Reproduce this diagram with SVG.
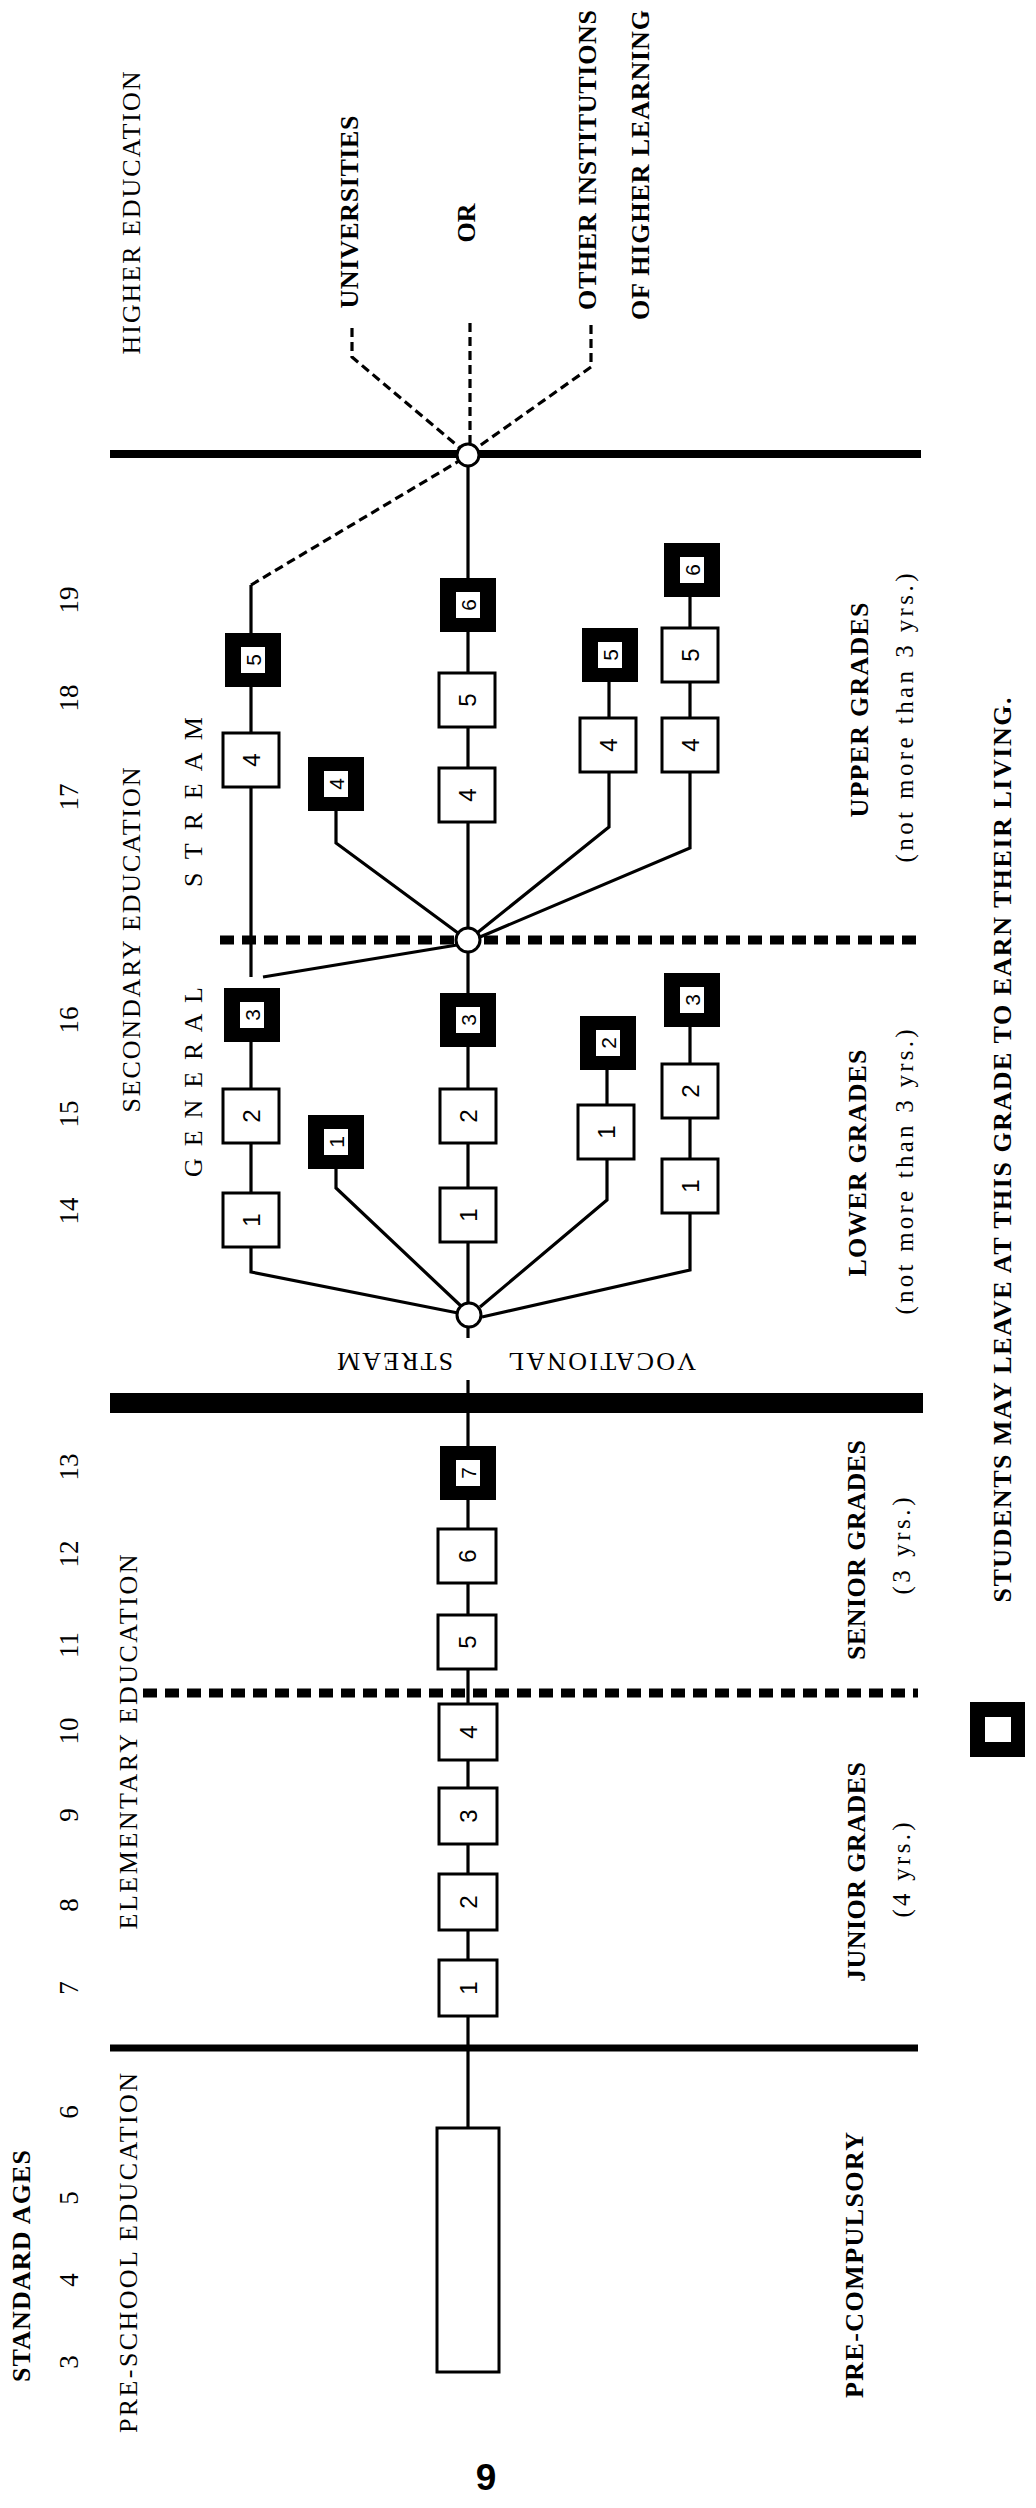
<svg xmlns="http://www.w3.org/2000/svg" width="1036" height="2508" viewBox="0 0 1036 2508">
<style>
.t{font-family:"Liberation Serif","DejaVu Serif",serif;font-size:26px;fill:#000;text-anchor:middle}
.b{font-weight:bold}
.s{font-size:25px}
.age{font-size:27px}
.box{fill:#fff;stroke:#000;stroke-width:3}
.blk{fill:#000}
.in{fill:#fff}
.num{font-family:"Liberation Sans",Arial,sans-serif;font-size:24px;text-anchor:middle;dominant-baseline:central;fill:#000}
.nb{font-size:21px}
.ln{stroke:#000;stroke-width:3.2;fill:none;stroke-linejoin:miter}
.dl{stroke:#000;stroke-width:3.2;fill:none;stroke-dasharray:9 5}
.bar{stroke:#000;fill:none}
.dbar{stroke:#000;fill:none;stroke-width:9;stroke-dasharray:14 8}
.circ{fill:#fff;stroke:#000;stroke-width:3}
</style>
<rect width="1036" height="2508" fill="#fff"/>

<g id="dividers">
<path class="bar" d="M110,454 H921" stroke-width="8"/>
<path class="dbar" d="M220,940 H921"/>
<path class="bar" d="M110,1403 H923" stroke-width="20"/>
<path class="dbar" d="M143,1693 H918"/>
<path class="bar" d="M110,2048 H918" stroke-width="7"/>
</g>

<g id="connectors">
<path class="ln" d="M468,2128 V1380"/>
<path class="ln" d="M468,1338 V455"/>
<path class="ln" d="M458,1313 L251,1272 V1015"/>
<path class="ln" d="M251,977 V585"/>
<path class="ln" d="M263,977 L457,945"/>
<path class="ln" d="M461,1306 L336,1188 V1142"/>
<path class="ln" d="M458,933 L336,843 V784"/>
<path class="ln" d="M480,1307 L607,1200 V1043"/>
<path class="ln" d="M482,1317 L690,1270 V1000"/>
<path class="ln" d="M477,933 L609,827 V655"/>
<path class="ln" d="M480,937 L690,848 V570"/>
<path class="dl" d="M251,585 L459,461"/>
<path class="dl" d="M352,328 V357 L460,448"/>
<path class="dl" d="M470,323 V443"/>
<path class="dl" d="M591,325 V367 L478,447"/>
</g>

<g id="junctions">
<circle id="j-top" class="circ" cx="468" cy="455" r="11"/>
<circle id="j-upper" class="circ" cx="468" cy="940" r="12"/>
<circle id="j-lower" class="circ" cx="469" cy="1315" r="12"/>
</g>

<g id="preschool"><rect class="box" x="437" y="2128" width="62" height="244"/></g>

<g id="elem-1" transform="translate(468,1988)"><rect class="box" x="-29" y="-28" width="58" height="56"/><text class="num" transform="rotate(-90)">1</text></g>
<g id="elem-2" transform="translate(468,1902)"><rect class="box" x="-29" y="-28" width="58" height="56"/><text class="num" transform="rotate(-90)">2</text></g>
<g id="elem-3" transform="translate(468,1816)"><rect class="box" x="-29" y="-28" width="58" height="56"/><text class="num" transform="rotate(-90)">3</text></g>
<g id="elem-4" transform="translate(468,1732)"><rect class="box" x="-29" y="-28" width="58" height="56"/><text class="num" transform="rotate(-90)">4</text></g>
<g id="elem-5" transform="translate(467,1642)"><rect class="box" x="-29" y="-27" width="58" height="54"/><text class="num" transform="rotate(-90)">5</text></g>
<g id="elem-6" transform="translate(467,1556)"><rect class="box" x="-29" y="-27" width="58" height="54"/><text class="num" transform="rotate(-90)">6</text></g>
<g id="elem-7" transform="translate(468,1473)"><rect class="blk" x="-28" y="-27" width="56" height="54"/><rect class="in" x="-12" y="-13" width="24" height="26"/><text class="num nb" transform="rotate(-90)">7</text></g>

<g id="gen-1" transform="translate(251,1220)"><rect class="box" x="-28" y="-27" width="56" height="54"/><text class="num" transform="rotate(-90)">1</text></g>
<g id="gen-2" transform="translate(251,1116)"><rect class="box" x="-28" y="-27" width="56" height="54"/><text class="num" transform="rotate(-90)">2</text></g>
<g id="gen-3" transform="translate(252,1015)"><rect class="blk" x="-28" y="-27" width="56" height="54"/><rect class="in" x="-12" y="-13" width="24" height="26"/><text class="num nb" transform="rotate(-90)">3</text></g>
<g id="gen-4" transform="translate(251,760)"><rect class="box" x="-28" y="-27" width="56" height="54"/><text class="num" transform="rotate(-90)">4</text></g>
<g id="gen-5" transform="translate(253,660)"><rect class="blk" x="-28" y="-27" width="56" height="54"/><rect class="in" x="-12" y="-13" width="24" height="26"/><text class="num nb" transform="rotate(-90)">5</text></g>

<g id="voc-a-1" transform="translate(336,1142)"><rect class="blk" x="-28" y="-27" width="56" height="54"/><rect class="in" x="-12" y="-13" width="24" height="26"/><text class="num nb" transform="rotate(-90)">1</text></g>
<g id="voc-a-4" transform="translate(336,784)"><rect class="blk" x="-28" y="-27" width="56" height="54"/><rect class="in" x="-12" y="-13" width="24" height="26"/><text class="num nb" transform="rotate(-90)">4</text></g>

<g id="mid-1" transform="translate(468,1215)"><rect class="box" x="-28" y="-27" width="56" height="54"/><text class="num" transform="rotate(-90)">1</text></g>
<g id="mid-2" transform="translate(468,1116)"><rect class="box" x="-28" y="-27" width="56" height="54"/><text class="num" transform="rotate(-90)">2</text></g>
<g id="mid-3" transform="translate(468,1020)"><rect class="blk" x="-28" y="-27" width="56" height="54"/><rect class="in" x="-12" y="-13" width="24" height="26"/><text class="num nb" transform="rotate(-90)">3</text></g>
<g id="mid-4" transform="translate(467,795)"><rect class="box" x="-28" y="-27" width="56" height="54"/><text class="num" transform="rotate(-90)">4</text></g>
<g id="mid-5" transform="translate(467,700)"><rect class="box" x="-28" y="-27" width="56" height="54"/><text class="num" transform="rotate(-90)">5</text></g>
<g id="mid-6" transform="translate(468,605)"><rect class="blk" x="-28" y="-27" width="56" height="54"/><rect class="in" x="-12" y="-13" width="24" height="26"/><text class="num nb" transform="rotate(-90)">6</text></g>

<g id="voc-b-1" transform="translate(606,1132)"><rect class="box" x="-28" y="-27" width="56" height="54"/><text class="num" transform="rotate(-90)">1</text></g>
<g id="voc-b-2" transform="translate(608,1043)"><rect class="blk" x="-28" y="-27" width="56" height="54"/><rect class="in" x="-12" y="-13" width="24" height="26"/><text class="num nb" transform="rotate(-90)">2</text></g>
<g id="voc-b-4" transform="translate(608,745)"><rect class="box" x="-28" y="-27" width="56" height="54"/><text class="num" transform="rotate(-90)">4</text></g>
<g id="voc-b-5" transform="translate(610,655)"><rect class="blk" x="-28" y="-27" width="56" height="54"/><rect class="in" x="-12" y="-13" width="24" height="26"/><text class="num nb" transform="rotate(-90)">5</text></g>

<g id="voc-c-1" transform="translate(690,1186)"><rect class="box" x="-28" y="-27" width="56" height="54"/><text class="num" transform="rotate(-90)">1</text></g>
<g id="voc-c-2" transform="translate(690,1091)"><rect class="box" x="-28" y="-27" width="56" height="54"/><text class="num" transform="rotate(-90)">2</text></g>
<g id="voc-c-3" transform="translate(692,1000)"><rect class="blk" x="-28" y="-27" width="56" height="54"/><rect class="in" x="-12" y="-13" width="24" height="26"/><text class="num nb" transform="rotate(-90)">3</text></g>
<g id="voc-c-4" transform="translate(690,745)"><rect class="box" x="-28" y="-27" width="56" height="54"/><text class="num" transform="rotate(-90)">4</text></g>
<g id="voc-c-5" transform="translate(690,655)"><rect class="box" x="-28" y="-27" width="56" height="54"/><text class="num" transform="rotate(-90)">5</text></g>
<g id="voc-c-6" transform="translate(692,570)"><rect class="blk" x="-28" y="-27" width="56" height="54"/><rect class="in" x="-12" y="-13" width="24" height="26"/><text class="num nb" transform="rotate(-90)">6</text></g>

<g id="legend"><rect class="blk" x="970" y="1702" width="55" height="55"/><rect class="in" x="985" y="1717" width="26" height="25"/></g>

<g id="labels">
<text class="t" transform="translate(140,213) rotate(-90)" textLength="283">HIGHER EDUCATION</text>
<text class="t b" transform="translate(358,212) rotate(-90)" textLength="193">UNIVERSITIES</text>
<text class="t b" transform="translate(475,223) rotate(-90)">OR</text>
<text class="t b" transform="translate(596,160) rotate(-90)" textLength="300">OTHER INSTITUTIONS</text>
<text class="t b" transform="translate(649,165) rotate(-90)" textLength="310">OF HIGHER LEARNING</text>
<text class="t" transform="translate(140,940) rotate(-90)" textLength="345">SECONDARY EDUCATION</text>
<text class="t" transform="translate(137,1742) rotate(-90)" textLength="375">ELEMENTARY EDUCATION</text>
<text class="t" transform="translate(137,2253) rotate(-90)" textLength="360">PRE-SCHOOL EDUCATION</text>
<text class="t b" transform="translate(30,2266) rotate(-90)" textLength="232">STANDARD AGES</text>
<text class="t" transform="translate(202,1082) rotate(-90)" textLength="190">G E N E R A L</text>
<text class="t" transform="translate(202,802) rotate(-90)" textLength="170">S T R E A M</text>
<text class="t" transform="translate(395,1353) rotate(180)" textLength="116">STREAM</text>
<text class="t" transform="translate(602,1353) rotate(180)" textLength="188">VOCATIONAL</text>
<text class="t b" transform="translate(868,710) rotate(-90)" textLength="215">UPPER GRADES</text>
<text class="t s" transform="translate(913,718) rotate(-90)" textLength="289">(not more than 3 yrs.)</text>
<text class="t b" transform="translate(866,1163) rotate(-90)" textLength="227">LOWER GRADES</text>
<text class="t s" transform="translate(913,1172) rotate(-90)" textLength="285">(not more than 3 yrs.)</text>
<text class="t b" transform="translate(865,1550) rotate(-90)" textLength="220">SENIOR GRADES</text>
<text class="t s" transform="translate(910,1546) rotate(-90)" textLength="97">(3 yrs.)</text>
<text class="t b" transform="translate(865,1872) rotate(-90)" textLength="220">JUNIOR GRADES</text>
<text class="t s" transform="translate(910,1870) rotate(-90)" textLength="95">(4 yrs.)</text>
<text class="t b" transform="translate(863,2265) rotate(-90)" textLength="266">PRE-COMPULSORY</text>
<text class="t b" transform="translate(1011,1150) rotate(-90)" textLength="905">STUDENTS MAY LEAVE AT THIS GRADE TO EARN THEIR LIVING.</text>
<text x="486" y="2490" font-family="Liberation Sans, Arial, sans-serif" font-weight="bold" font-size="37" text-anchor="middle">9</text>
</g>

<g id="ages">
<text class="t age" transform="translate(78,600) rotate(-90)">19</text>
<text class="t age" transform="translate(78,698) rotate(-90)">18</text>
<text class="t age" transform="translate(78,797) rotate(-90)">17</text>
<text class="t age" transform="translate(78,1020) rotate(-90)">16</text>
<text class="t age" transform="translate(78,1114) rotate(-90)">15</text>
<text class="t age" transform="translate(78,1211) rotate(-90)">14</text>
<text class="t age" transform="translate(78,1467) rotate(-90)">13</text>
<text class="t age" transform="translate(78,1554) rotate(-90)">12</text>
<text class="t age" transform="translate(78,1645) rotate(-90)">11</text>
<text class="t age" transform="translate(78,1731) rotate(-90)">10</text>
<text class="t age" transform="translate(78,1815) rotate(-90)">9</text>
<text class="t age" transform="translate(78,1905) rotate(-90)">8</text>
<text class="t age" transform="translate(78,1988) rotate(-90)">7</text>
<text class="t age" transform="translate(78,2112) rotate(-90)">6</text>
<text class="t age" transform="translate(78,2198) rotate(-90)">5</text>
<text class="t age" transform="translate(78,2280) rotate(-90)">4</text>
<text class="t age" transform="translate(78,2362) rotate(-90)">3</text>
</g>
</svg>
